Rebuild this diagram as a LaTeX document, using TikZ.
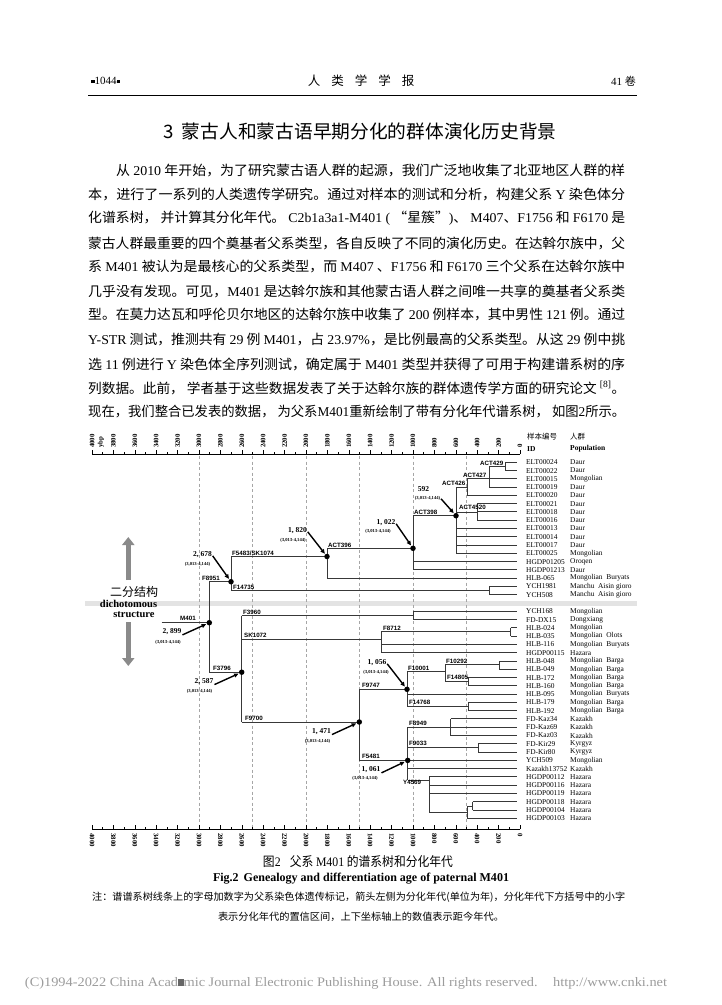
\documentclass[tikz,border=0pt]{standalone}
\usepackage{fontspec}
\usepackage{graphicx}
\setmainfont{Liberation Serif}
\newfontfamily\cjk{Noto Sans CJK SC}
\newfontfamily\mkfont{Liberation Sans}
\usetikzlibrary{arrows.meta}
\definecolor{cBranch}{HTML}{383838}
\definecolor{cGrid}{HTML}{A6A6A6}
\definecolor{cBand}{HTML}{E3E3E3}
\definecolor{cBig}{HTML}{8A8A8A}
\definecolor{cFoot}{HTML}{9C9C9C}
\newcommand\en[1]{{\rmfamily #1}}
\newcommand\fitw[2]{\resizebox{#1pt}{\height}{#2}}
\tikzset{
  txt/.style={inner sep=0pt, anchor=west},
  body/.style={txt, font=\cjk\fontsize{13.5}{16}\selectfont},
  br/.style={draw=cBranch, line width=1pt},
  gridln/.style={draw=cGrid, line width=0.6pt, dash pattern=on 3pt off 2.5pt},
  leafid/.style={anchor=west, inner xsep=9pt, inner ysep=0pt, font=\fontsize{7.4}{8}\selectfont},
  leafpop/.style={anchor=west, inner sep=0pt, font=\fontsize{7.4}{8}\selectfont},
  mk/.style={anchor=south west, inner sep=0pt, font=\mkfont\bfseries\fontsize{6.2}{7}\selectfont},
  agel/.style={inner sep=0pt, font=\bfseries\fontsize{7.5}{8}\selectfont},
  cil/.style={inner sep=0pt, font=\bfseries\fontsize{4.6}{5}\selectfont},
  agedot/.style={circle, fill=black, inner sep=0pt, minimum size=5.5pt},
  agearr/.style={-{Triangle[length=4.5pt,width=4pt]}, line width=1.4pt, shorten >=0.5pt, shorten <=1pt},
  bigarr/.style={-{Triangle[length=8pt,width=12pt]}, draw=cBig, line width=5.5pt},
  axlab/.style={inner sep=0pt, anchor=west, font=\bfseries\fontsize{6.8}{7}\selectfont},
}

\begin{document}
\begin{tikzpicture}[x=1pt, y=-1pt]
  \fill[white] (0,0) rectangle (721,1005);
  \useasboundingbox (0,0) rectangle (721,1005);

  % running head
  \node[txt, font=\fontsize{11}{12}\selectfont] (pgno) at (91,81)
    {\raisebox{1.5pt}{\rule{3.5pt}{3.5pt}}1044\raisebox{1.5pt}{\rule{3.5pt}{3.5pt}}};
  \node[font=\cjk\fontsize{12.5}{14}\selectfont] (jname) at (361,81)
    {人\hspace{11pt}类\hspace{11pt}学\hspace{11pt}学\hspace{11pt}报};
  \node[anchor=east, inner sep=0pt, font=\fontsize{11}{12}\selectfont] (vol) at (636,81) {41 {\cjk 卷}};
  \coordinate (hl) at (88,95);
  \coordinate (hr) at (637,95);
  \draw[line width=0.8pt] (hl) -- (hr);

  % section heading and text
  \node[font=\cjk\fontsize{18.5}{20}\selectfont] (sec) at (360,131)
    {\fitw{393}{3\hspace{8pt}蒙古人和蒙古语早期分化的群体演化历史背景}};
  \node[body] (b1) at (116,170) {\fitw{509}{从 \en{2010} 年开始，为了研究蒙古语人群的起源，我们广泛地收集了北亚地区人群的样}};
  \node[body] (b2) at (88,194) {\fitw{537}{本，进行了一系列的人类遗传学研究。通过对样本的测试和分析，构建父系 \en{Y} 染色体分}};
  \node[body] (b3) at (88,218) {\fitw{537}{化谱系树， 并计算其分化年代。 \en{C2b1a3a1-M401 (} “星簇”\en{)}、 \en{M407}、\en{F1756} 和 \en{F6170} 是}};
  \node[body] (b4) at (88,243) {\fitw{537}{蒙古人群最重要的四个奠基者父系类型，各自反映了不同的演化历史。在达斡尔族中，父}};
  \node[body] (b5) at (88,267) {\fitw{537}{系 \en{M401} 被认为是最核心的父系类型，而 \en{M407} 、\en{F1756} 和 \en{F6170} 三个父系在达斡尔族中}};
  \node[body] (b6) at (88,291) {\fitw{537}{几乎没有发现。可见，\en{M401} 是达斡尔族和其他蒙古语人群之间唯一共享的奠基者父系类}};
  \node[body] (b7) at (88,315) {\fitw{537}{型。在莫力达瓦和呼伦贝尔地区的达斡尔族中收集了 \en{200} 例样本，其中男性 \en{121} 例。通过}};
  \node[body] (b8) at (88,340) {\fitw{537}{\en{Y-STR} 测试，推测共有 \en{29} 例 \en{M401}，占 \en{23.97\%}，是比例最高的父系类型。从这 \en{29} 例中挑}};
  \node[body] (b9) at (88,364) {\fitw{537}{选 \en{11} 例进行 \en{Y} 染色体全序列测试，确定属于 \en{M401} 类型并获得了可用于构建谱系树的序}};
  \node[body] (b10) at (88,388) {\fitw{537}{列数据。此前， 学者基于这些数据发表了关于达斡尔族的群体遗传学方面的研究论文 \textsuperscript{\en{[8]}}。}};
  \node[body] (b11) at (88,412) {\fitw{537}{现在，我们整合已发表的数据， 为父系\en{M401}重新绘制了带有分化年代谱系树， 如图\en{2}所示。}};

  % time axes and grid
  \fill[cBand] (85,600.5) rectangle (637,605.5);
  \foreach \t in {500,1000,...,3000}
    \draw[gridln] ({520-0.107*\t},456) -- ({520-0.107*\t},828);
  \foreach \yy/\rot/\ly in {454/90/448, 829/-90/833} {
    \draw[line width=0.7pt] (92,\yy) -- (520,\yy);
    \foreach \t in {0,200,...,4000} {
      \draw[line width=0.6pt] ({520-0.107*\t},\yy) -- ++(0,-4);
      \node[axlab, rotate=\rot] at ({520-0.107*\t},\ly) {\t};
    }
    \foreach \t in {100,300,...,3900}
      \draw[line width=0.6pt] ({520-0.107*\t},\yy) -- ++(0,-2.5);
  }
  \node[axlab, rotate=90] (ybp) at (101,448) {ybp};
  \node[txt, font=\cjk\fontsize{7.5}{8}\selectfont] (hid) at (527,437) {样本编号};
  \node[txt, font=\cjk\fontsize{7.5}{8}\selectfont] (hpop) at (570,437) {人群};
  \node[txt, font=\bfseries\fontsize{7.5}{8}\selectfont] (hid2) at (527,449) {ID};
  \node[txt, font=\bfseries\fontsize{7.5}{8}\selectfont] (hpop2) at (570,449) {Population};

  % samples
  \foreach \r/\id/\pop in {0/ELT00024/Daur, 1/ELT00022/Daur, 2/ELT00015/Mongolian, 3/ELT00019/Daur,
      4/ELT00020/Daur, 5/ELT00021/Daur, 6/ELT00018/Daur, 7/ELT00016/Daur, 8/ELT00013/Daur,
      9/ELT00014/Daur, 10/ELT00017/Daur, 11/ELT00025/Mongolian, 12/HGDP01205/Oroqen,
      13/HGDP01213/Daur, 14/HLB-065/Mongolian\enspace Buryats, 15/YCH1981/Manchu\enspace Aisin gioro,
      16/YCH508/Manchu\enspace Aisin gioro, 18/YCH168/Mongolian, 19/FD-DX15/Dongxiang,
      20/HLB-024/Mongolian, 21/HLB-035/Mongolian\enspace Olots, 22/HLB-116/Mongolian\enspace Buryats,
      23/HGDP00115/Hazara, 24/HLB-048/Mongolian\enspace Barga, 25/HLB-049/Mongolian\enspace Barga,
      26/HLB-172/Mongolian\enspace Barga, 27/HLB-160/Mongolian\enspace Barga,
      28/HLB-095/Mongolian\enspace Buryats, 29/HLB-179/Mongolian\enspace Barga,
      30/HLB-192/Mongolian\enspace Barga, 31/FD-Kaz34/Kazakh, 32/FD-Kaz69/Kazakh, 33/FD-Kaz03/Kazakh,
      34/FD-Kir29/Kyrgyz, 35/FD-Kir80/Kyrgyz, 36/YCH509/Mongolian, 37/Kazakh13752/Kazakh,
      38/HGDP00112/Hazara, 39/HGDP00116/Hazara, 40/HGDP00119/Hazara, 41/HGDP00118/Hazara,
      42/HGDP00104/Hazara, 43/HGDP00103/Hazara} {
    \node[leafid] (l\r) at (517,{462.3+8.28*\r}) {\id};
    \node[leafpop] (p\r) at (570,{462.3+8.28*\r}) {\pop};
  }

  % split points
  \coordinate (root) at (161.7,622.7);
  \coordinate (c429) at (505,466.5);
  \coordinate (c427) at (489,478.9);
  \coordinate (c426) at (467,487.1);
  \coordinate (c4520) at (477,512);
  \coordinate (c398) at (456,515.7);
  \coordinate (c1022) at (413,548.3);
  \coordinate (c396) at (327,556.5);
  \coordinate (c1981) at (489,590.7);
  \coordinate (c2678) at (231,581.7);
  \coordinate (cM401) at (209.3,622.7);
  \coordinate (c3796) at (241.7,672.2);
  \coordinate (c168) at (413,615.5);
  \coordinate (c8712) at (381,639.3);
  \coordinate (c024) at (510.7,631.8);
  \coordinate (c1471) at (359.3,722);
  \coordinate (c1056) at (407,689.3);
  \coordinate (c10001) at (445,671.7);
  \coordinate (c048) at (499.3,664.8);
  \coordinate (c172) at (468,681.7);
  \coordinate (c179) at (468,706.5);
  \coordinate (c1061) at (407.7,760.4);
  \coordinate (c8949) at (450.7,727.3);
  \coordinate (c9033) at (478.3,747.9);
  \coordinate (c4569) at (429.3,780);
  \coordinate (c118) at (467.3,812.2);
  \coordinate (c118b) at (472.7,806);

  % branches
  \foreach \p/\t/\b in {c429/l0.west/l1.west, c427/c429/l3.west, c426/c427/l4.west,
      c4520/l5.west/l7.west, c398/c426/l11.west, c1022/c398/l13.west, c396/c1022/l14.west,
      c1981/l15.west/l16.west, c2678/c396/c1981, cM401/c2678/c3796, c3796/c168/c1471,
      c168/l18.west/l19.west, c8712/c024/l23.west, c024/l20.west/l21.west, c1471/c1056/c1061,
      c1056/c10001/c179, c10001/c048/c172, c048/l24.west/l25.west, c172/l26.west/l27.west,
      c179/l29.west/l30.west, c1061/c8949/c4569, c8949/l31.west/l33.west, c9033/l34.west/l35.west,
      c4569/l38.west/c118, c118/c118b/l43.west, c118b/l41.west/l42.west}
    \draw[br] (\p |- \t) -- (\p |- \b);
  \foreach \p/\c in {c427/c429, c426/c427, c398/c426, c398/c4520, c1022/c398, c396/c1022,
      c2678/c396, c2678/c1981, cM401/c2678, cM401/c3796, c3796/c168, c3796/c8712, c8712/c024,
      c3796/c1471, c1471/c1056, c1471/c1061, c1056/c10001, c1056/c179, c10001/c048,
      c10001/c172, c1061/c8949, c1061/c9033, c1061/c4569, c4569/c118, c118/c118b}
    \draw[br] (\p |- \c) -- (\c);
  \draw[br] (root) -- (cM401);
  \foreach \p/\l in {c429/0, c429/1, c427/2, c427/3, c426/4, c4520/5, c4520/6, c4520/7,
      c398/8, c398/9, c398/10, c398/11, c1022/12, c1022/13, c396/14, c1981/15, c1981/16,
      c168/18, c168/19, c024/20, c024/21, c8712/22, c8712/23, c048/24, c048/25, c172/26,
      c172/27, c1056/28, c179/29, c179/30, c8949/31, c8949/32, c8949/33, c9033/34, c9033/35,
      c1061/36, c1061/37, c4569/38, c4569/39, c4569/40, c118b/41, c118b/42, c118/43}
    \draw[br] (\p |- l\l.west) -- (l\l.west);

  % marker names on the branches
  \node[mk] (m429) at (480,465.5) {ACT429};
  \node[mk] (m427) at (463,478) {ACT427};
  \node[mk] (m426) at (442,486) {ACT426};
  \node[mk] (m398) at (414,515) {ACT398};
  \node[mk] (m4520) at (459,510) {ACT4520};
  \node[mk] (m396) at (328,548) {ACT396};
  \node[mk] (m5483) at (232,556) {F5483/SK1074};
  \node[mk] (m8951) at (202,581) {F8951};
  \node[mk] (m14735) at (233,590) {F14735};
  \node[mk] (mM401) at (180,621) {M401};
  \node[mk] (m3960) at (243,614.5) {F3960};
  \node[mk] (m1072) at (244,638) {SK1072};
  \node[mk] (m3796) at (213,670.5) {F3796};
  \node[mk] (m9700) at (245,721) {F9700};
  \node[mk] (m9747) at (362,688) {F9747};
  \node[mk] (m5481) at (362,759) {F5481};
  \node[mk] (m8712) at (383,630.5) {F8712};
  \node[mk] (m10001) at (408,670.5) {F10001};
  \node[mk] (m10292) at (446,663.5) {F10292};
  \node[mk] (m14805) at (447,680) {F14805};
  \node[mk] (m14768) at (409,705) {F14768};
  \node[mk] (m8949) at (409,726) {F8949};
  \node[mk] (m9033) at (409,746) {F9033};
  \node[mk, anchor=north west] (m4569) at (403,780) {Y4569};

  % dated splits
  \foreach \c in {c396,c2678,c1022,c398,cM401,c3796,c1471,c1056,c1061}
    \node[agedot] (d\c) at (\c) {};
  \node[agel] (a1820) at (297.5,531) {1, 820};
  \node[cil] (i1820) at (293,540) {(3,013-4,144)};
  \node[agel] (a2678) at (202.5,555) {2, 678};
  \node[cil] (i2678) at (197.5,564) {(3,013-4,144)};
  \node[agel] (a1022) at (386,523) {1, 022};
  \node[cil] (i1022) at (378,531.5) {(3,013-4,144)};
  \node[agel] (a592) at (423.5,489) {592};
  \node[cil] (i592) at (427.5,498) {(3,013-4,144)};
  \node[agel] (a2899) at (172,632) {2, 899};
  \node[cil] (i2899) at (168,642) {(3,013-4,144)};
  \node[agel] (a2587) at (204,681.7) {2, 587};
  \node[cil] (i2587) at (199.5,691.5) {(3,013-4,144)};
  \node[agel] (a1471) at (321.5,731.7) {1, 471};
  \node[cil] (i1471) at (317.5,741) {(3,013-4,144)};
  \node[agel] (a1056) at (377,663) {1, 056};
  \node[cil] (i1056) at (376,672) {(3,013-4,144)};
  \node[agel] (a1061) at (371,770) {1, 061};
  \node[cil] (i1061) at (365,778.5) {(3,013-4,144)};
  \draw[agearr] (a1820.east) -- (dc396);
  \draw[agearr] (a2678.east) -- (dc2678);
  \draw[agearr] (a1022.east) -- (dc1022);
  \draw[agearr] (i592.east) -- (dc398);
  \draw[agearr] (a2899.south east) -- (dcM401);
  \draw[agearr] (a2587.south east) -- (dc3796);
  \draw[agearr] (a1471.south east) -- (dc1471);
  \draw[agearr] (a1056.east) -- (dc1056);
  \draw[agearr] (a1061.south east) -- (dc1061);

  % dichotomous structure
  \coordinate (upb) at (128.3,580);
  \coordinate (upt) at (128.3,537);
  \coordinate (dnt) at (128.3,622);
  \coordinate (dnb) at (128.3,666);
  \draw[bigarr] (upb) -- (upt);
  \draw[bigarr] (dnt) -- (dnb);
  \node[font=\cjk\fontsize{12}{13}\selectfont] (dich) at (134,592) {二分结构};
  \node[font=\bfseries\fontsize{10.5}{11}\selectfont] (dich2) at (128.5,603.5) {dichotomous};
  \node[font=\bfseries\fontsize{10.5}{11}\selectfont] (dich3) at (134,615) {structure};

  % caption and note
  \node[font=\cjk\fontsize{13}{14}\selectfont] (capcn) at (358,862)
    {\fitw{190}{图\en{2}\hspace{10pt}父系 \en{M401} 的谱系树和分化年代}};
  \node[font=\bfseries\fontsize{12}{13}\selectfont] (capen) at (361,879)
    {\fitw{296}{Fig.2\hspace{5pt}Genealogy and differentiation age of paternal M401}};
  \node[txt, font=\cjk\fontsize{10}{11}\selectfont] (note1) at (92,897)
    {\fitw{533}{注：谱谱系树线条上的字母加数字为父系染色体遗传标记，箭头左侧为分化年代(单位为年)，分化年代下方括号中的小字}};
  \node[font=\cjk\fontsize{10}{11}\selectfont] (note2) at (361,917)
    {\fitw{286}{表示分化年代的置信区间，上下坐标轴上的数值表示距今年代。}};

  % footer
  \node[font=\fontsize{13}{14}\selectfont, text=cFoot] (foot) at (346,983)
    {\fitw{642}{(C)1994-2022 China Acad{\color{black!60}\rule{5pt}{7pt}}mic Journal Electronic Publishing House. All rights reserved.\hspace{14pt}http://www.cnki.net}};
\end{tikzpicture}
\end{document}
